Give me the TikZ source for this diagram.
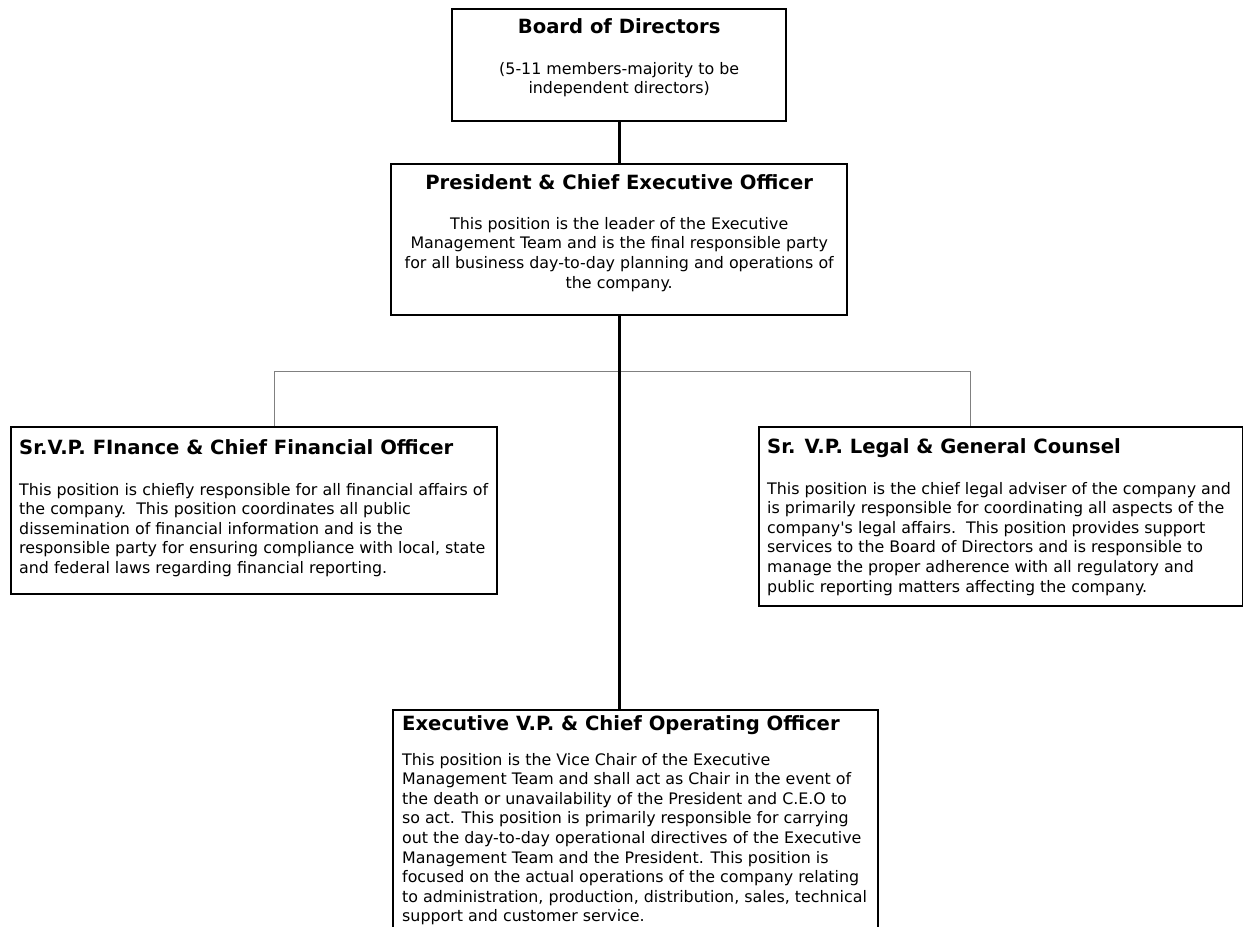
\documentclass[tikz,border=0pt]{standalone}
\usepackage{fontspec}
\setmainfont{DejaVu Sans}[Ligatures=TeXOff]
\usepackage{tikz}
\usepackage{xcolor}
\usetikzlibrary{calc}

\newdimen\px \px=0.75pt
\newcommand{\titlefont}{\fontsize{14.7}{16}\selectfont\bfseries}
\newcommand{\bodyfont}{\fontsize{11.9}{14.7}\selectfont}
\newcommand{\leftpos}{\raggedright\leftskip=8\px}
% text block of a position box: width, height, alignment, title baseline, gap, title, body
\newcommand{\postext}[7]{%
  \parbox[t][#2][t]{#1}{#3%
    {\titlefont\rule{0pt}{#4}#6\par}%
    \vspace{#5}%
    {\bodyfont #7\par}}}

\begin{document}
\begin{tikzpicture}[x=0.75pt, y=-0.75pt,
    posbox/.style={draw, line width=1.8pt, inner sep=0pt, anchor=north west},
    link/.style={line width=2pt},
    branch/.style={draw=gray, line width=0.6pt}]
  \useasboundingbox (0,0) rectangle (1243,926);
  \clip (0,0) rectangle (1243,926);
  % Board and president
  \node[posbox] (board) at (451,8) {\postext{334\px}{112\px}{\centering}{24\px}{16pt}%
    {Board of Directors}{(5-11 members-majority to be\\ independent directors)}};
  \node[posbox] (pres) at (390,163) {\postext{456\px}{151\px}{\centering}{25\px}{15.3pt}%
    {President \& Chief Executive Officer}%
    {This position is the leader of the Executive\\ Management Team and is the final responsible party\\ for all business day-to-day planning and operations of\\ the company.}};
  % Staff positions
  \node[posbox] (fin) at (10,426) {\postext{486\px}{167\px}{\leftpos}{27\px}{16pt}%
    {Sr.V.P. FInance \& Chief Financial Officer}%
    {This position is chiefly responsible for all financial affairs of\\ the company.\ \ This position coordinates all public\\ dissemination of financial information and is the\\ responsible party for ensuring compliance with local, state\\ and federal laws regarding financial reporting.}};
  \node[posbox] (legal) at (758,426) {\postext{484\px}{179\px}{\leftpos}{26\px}{16pt}%
    {Sr. V.P. Legal \& General Counsel}%
    {This position is the chief legal adviser of the company and\\ is primarily responsible for coordinating all aspects of the\\ company's legal affairs.\ \ This position provides support\\ services to the Board of Directors and is responsible to\\ manage the proper adherence with all regulatory and\\ public reporting matters affecting the company.}};
  % Operations
  \node[posbox] (coo) at (392,709) {\postext{485\px}{240\px}{\raggedright\leftskip=9\px}{20\px}{11.5pt}%
    {Executive V.P. \& Chief Operating Officer}%
    {This position is the Vice Chair of the Executive\\ Management Team and shall act as Chair in the event of\\ the death or unavailability of the President and C.E.O to\\ so act. This position is primarily responsible for carrying\\ out the day-to-day operational directives of the Executive\\ Management Team and the President. This position is\\ focused on the actual operations of the company relating\\ to administration, production, distribution, sales, technical\\ support and customer service.}};
  % Connectors
  \draw[branch] ([xshift=15pt]fin.north) -- ++(0,-55) -| ([xshift=-23.25pt]legal.north);
  \draw[link] (board.south) -- (pres.north);
  \draw[link] (pres.south) -- (pres.south |- coo.north);
\end{tikzpicture}
\end{document}
